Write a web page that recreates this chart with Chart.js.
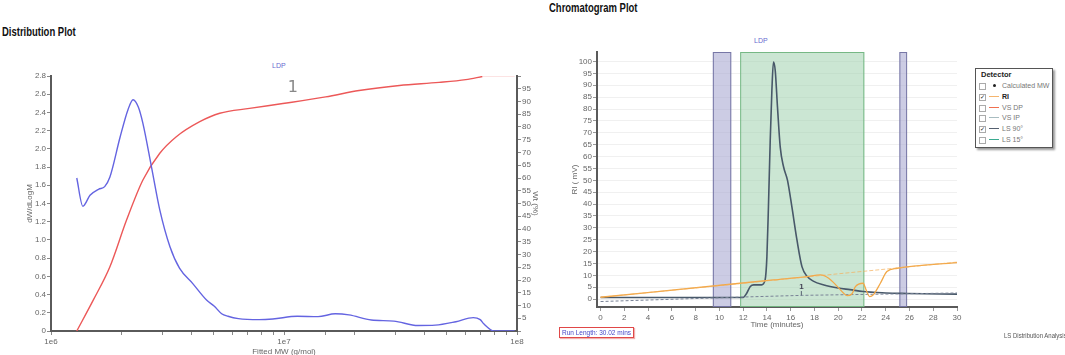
<!DOCTYPE html>
<html>
<head>
<meta charset="utf-8">
<script src="https://cdn.jsdelivr.net/npm/chart.js@4.4.1/dist/chart.umd.min.js"></script>
<style>
  body { margin: 0; background: #fff; width: 1065px; height: 355px; position: relative; overflow: hidden;
         font-family: "Liberation Sans", Arial, sans-serif; }
  .abs { position: absolute; white-space: nowrap; }
  .ptitle { font-weight: bold; font-size: 12px; color: #111; transform: scaleX(0.79); transform-origin: 0 0; }
  .ldp { font-size: 7px; color: #6a6ad0; }
  #distWrap { left: 21px; top: 0; }
  #chromWrap { left: 566px; top: 0; }
  #legend { left: 975px; top: 68px; width: 76px; height: 78px; border: 1px solid #555; box-shadow: 2px 2px 2px #999;
            background: #fff; font-size: 7px; color: #777; }
  #legend .hd { position: absolute; left: 5px; top: 1px; font-weight: bold; color: #222; font-size: 7.5px; }
  #legend .row { position: absolute; left: 2px; height: 10px; width: 72px; }
  #legend .cb { position: absolute; left: 1px; top: 2px; width: 5px; height: 5px; border: 1px solid #aaa; font-size: 6px; line-height: 5px; color: #111; text-align: center; }
  #legend .sym { position: absolute; left: 11px; top: 4px; width: 10px; height: 1px; }
  #legend .lbl { position: absolute; left: 24px; top: 0; line-height: 9px; }
  #runLen { left: 559px; top: 327px; border: 1px solid #e04848; box-shadow: 1px 1px 1px #f0b0b0; font-size: 6.5px; color: #4646c8; padding: 1px 2px; }
  #lsDist { left: 1004px; top: 331px; font-size: 7.5px; color: #555; transform: scaleX(0.8); transform-origin: 0 0; }
</style>
</head>
<body>
<div class="abs ptitle" style="left:2px;top:25px;">Distribution Plot</div>
<div class="abs ptitle" style="left:549px;top:1px;">Chromatogram Plot</div>
<div class="abs ldp" style="left:272px;top:62px;">LDP</div>
<div class="abs ldp" style="left:754px;top:37px;">LDP</div>

<div class="abs" id="distWrap"><canvas id="dist" width="523" height="357"></canvas></div>
<div class="abs" id="chromWrap"><canvas id="chrom" width="399" height="332"></canvas></div>

<div class="abs" id="legend">
  <div class="hd">Detector</div>
  <div class="row" style="top:12px"><div class="cb"></div><div class="sym" style="background:none;"><span style="position:absolute;left:4px;top:-1px;width:3px;height:3px;border-radius:2px;background:#222;"></span></div><div class="lbl">Calculated MW</div></div>
  <div class="row" style="top:23px"><div class="cb">✓</div><div class="sym" style="background:#f5b56e;"></div><div class="lbl" style="font-weight:bold;color:#222;">RI</div></div>
  <div class="row" style="top:34px"><div class="cb"></div><div class="sym" style="background:#f07050;"></div><div class="lbl">VS DP</div></div>
  <div class="row" style="top:44px"><div class="cb"></div><div class="sym" style="background:#a8bcc0;"></div><div class="lbl">VS IP</div></div>
  <div class="row" style="top:55px"><div class="cb">✓</div><div class="sym" style="background:#556070;"></div><div class="lbl">LS 90°</div></div>
  <div class="row" style="top:66px"><div class="cb"></div><div class="sym" style="background:#3aaa90;"></div><div class="lbl">LS 15°</div></div>
</div>

<div class="abs" id="runLen">Run Length: 30.02 mins</div>
<div class="abs" id="lsDist">LS Distribution Analysis</div>

<script>
// ---- Distribution plot data (MW in g/mol) ----
const distMW = [1.29e6, 1.37e6, 1.47e6, 1.60e6, 1.70e6, 1.79e6, 1.98e6, 2.14e6, 2.25e6, 2.37e6, 2.48e6,
  2.70e6, 2.93e6, 3.24e6, 3.56e6, 4.06e6, 4.65e6, 5.01e6, 5.40e6, 5.75e6, 6.37e6, 7.82e6, 8.95e6,
  1.14e7, 1.40e7, 1.66e7, 1.90e7, 2.37e7, 2.96e7, 3.76e7, 4.46e7, 5.47e7, 6.49e7, 6.95e7, 7.20e7, 7.96e7, 9.77e7];
const distDW = [1.68, 1.37, 1.49, 1.556, 1.585, 1.69, 2.13, 2.43, 2.54, 2.46, 2.28,
  1.80, 1.33, 0.925, 0.69, 0.52, 0.34, 0.275, 0.19, 0.162, 0.136, 0.125, 0.132,
  0.162, 0.158, 0.189, 0.177, 0.121, 0.109, 0.06, 0.064, 0.102, 0.147, 0.125, 0.079, 0, 0];
const cumMW = [1.29e6, 1.52e6, 1.79e6, 2.11e6, 2.48e6, 2.93e6, 3.45e6, 4.35e6, 5.30e6, 7.11e6, 9.89e6,
  1.51e7, 2.10e7, 3.13e7, 4.63e7, 6.03e7, 7.10e7];
const cumPct = [0, 12.2, 25.2, 43.5, 59.2, 69.7, 76.2, 82.1, 85.4, 87.3, 89.2, 91.8, 94.3, 96.3, 97.5, 98.6, 99.8];
const cumTailMW = [7.10e7, 9.77e7];
const cumTailPct = [100, 100];
const distPeakMW = 1.09e7, distPeakPct = 95.5, distPeakLabel = '1';

// ---- Chromatogram data (time in minutes, signal in mV) ----
const riTime = [0, 11.75, 14.55, 17.37, 18.5, 19.2, 19.9, 20.46, 20.75, 21.15, 21.45, 22.1, 22.35, 22.65, 22.95, 23.55, 24.1, 24.96, 30];
const riMV   = [0.8, 6.7, 8.1, 9.5, 10.2, 8.8, 5.5, 2.5, 1.5, 2.2, 5.3, 6.7, 3.9, 1.1, 1.8, 6.7, 11.6, 13.0, 15.4];
const riBaseTime = [0, 30];
const riBaseMV = [0.8, 15.6];
const lsTime = [0, 12.0, 12.3, 12.6, 12.9, 13.55, 13.85, 14.0, 14.13, 14.28, 14.42, 14.55, 14.7, 14.89, 15.12, 15.4,
  15.73, 16.1, 16.53, 16.95, 17.4, 17.9, 18.8, 20.0, 21.0, 22.1, 23.0, 24.0, 25.8, 30];
const lsMV = [0.7, 0.7, 2.5, 5.3, 6.0, 6.0, 8.1, 17.9, 38.9, 66.9, 87.9, 99.8, 96.3, 80.9, 64.1, 55.7,
  50.1, 38.9, 24.9, 13.7, 9.5, 7.6, 6.0, 4.7, 4.0, 3.2, 2.9, 2.6, 2.4, 2.1];
const lsBaseTime = [0, 12, 17, 30];
const lsBaseMV = [-1.0, 0.9, 1.6, 2.6];
const bandStart = [9.45, 11.75, 25.15];
const bandEnd = [11.0, 22.2, 25.8];
const bandType = ['exclude', 'peak', 'exclude'];
const chromPeakTime = 16.9, chromPeakBase = 1.6, chromPeakTop = 3.4, chromPeakLabel = '1';

const pts = (xs, ys) => xs.map((x, i) => ({ x: x, y: ys[i] }));

Chart.defaults.font.family = '"Liberation Sans", Arial, sans-serif';
Chart.defaults.font.size = 8;
Chart.defaults.color = '#666';

const axisBorder = { color: '#5a5a5a', width: 2 };
const tickGrid = { display: true, drawOnChartArea: false, tickLength: 4, color: '#888' };

const distLabels = {
  id: 'distLabels',
  afterDatasetsDraw(chart) {
    const { ctx, scales } = chart;
    ctx.save();
    ctx.font = '16px "DejaVu Sans", sans-serif';
    ctx.fillStyle = '#888';
    ctx.textAlign = 'center';
    ctx.textBaseline = 'middle';
    ctx.fillText(distPeakLabel, scales.x.getPixelForValue(distPeakMW), scales.y2.getPixelForValue(distPeakPct));
    ctx.restore();
  }
};

new Chart(document.getElementById('dist').getContext('2d'), {
  type: 'line',
  data: {
    datasets: [
      { data: pts(distMW, distDW), yAxisID: 'y', borderColor: 'rgb(100,100,225)', borderWidth: 1.4,
        pointRadius: 0, cubicInterpolationMode: 'monotone' },
      { data: pts(cumMW, cumPct), yAxisID: 'y2', borderColor: 'rgb(236,88,88)', borderWidth: 1.4,
        pointRadius: 0, cubicInterpolationMode: 'monotone' },
      { data: pts(cumTailMW, cumTailPct), yAxisID: 'y2', borderColor: 'rgba(240,130,130,0.3)', borderWidth: 1.4,
        pointRadius: 0 }
    ]
  },
  options: {
    animation: false, responsive: false,
    layout: { padding: { top: 76, left: 0, right: 0, bottom: 0 } },
    plugins: { legend: { display: false }, tooltip: { enabled: false } },
    scales: {
      x: {
        type: 'logarithmic', min: 1e6, max: 1e8, border: axisBorder, grid: tickGrid,
        ticks: { autoSkip: false, maxRotation: 0, padding: 2,
          callback: v => { const e = Math.log10(v); return Math.abs(e - Math.round(e)) < 1e-9 ? '1e' + Math.round(e) : ''; } },
        title: { display: true, text: 'Fitted MW (g/mol)', padding: { top: 0, bottom: 0 } },
        afterFit: s => { s.height = 26; }
      },
      y: {
        position: 'left', min: 0, max: 2.8, border: axisBorder, grid: tickGrid,
        ticks: { stepSize: 0.2, padding: 1 },
        title: { display: true, text: 'dW/dLogM', padding: { top: 4, bottom: 0 } },
        afterFit: s => { s.width = 30; }
      },
      y2: {
        position: 'right', min: 0, max: 100, border: axisBorder, grid: tickGrid,
        ticks: { stepSize: 5, padding: 1, callback: v => (v === 0 || v === 100) ? '' : v },
        title: { display: true, text: 'Wt (%)', padding: { top: 4, bottom: 0 } },
        afterFit: s => { s.width = 27; }
      }
    }
  },
  plugins: [distLabels]
});

const bandStyle = {
  exclude: { fill: 'rgba(170,170,210,0.6)', stroke: 'rgba(110,110,160,0.9)' },
  peak: { fill: 'rgba(160,210,175,0.55)', stroke: 'rgba(110,180,125,0.9)' }
};

const bands = {
  id: 'bands',
  beforeDatasetsDraw(chart) {
    const { ctx, chartArea, scales: { x } } = chart;
    ctx.save();
    bandStart.forEach((s, i) => {
      const x1 = x.getPixelForValue(s), x2 = x.getPixelForValue(bandEnd[i]);
      const st = bandStyle[bandType[i]];
      ctx.fillStyle = st.fill;
      ctx.fillRect(x1, chartArea.top, x2 - x1, chartArea.bottom - chartArea.top);
      ctx.strokeStyle = st.stroke;
      ctx.lineWidth = 1;
      ctx.strokeRect(x1 + 0.5, chartArea.top + 0.5, x2 - x1 - 1, chartArea.bottom - chartArea.top - 1);
    });
    ctx.restore();
  },
  afterDatasetsDraw(chart) {
    const { ctx, scales: { x, y } } = chart;
    const px = x.getPixelForValue(chromPeakTime);
    ctx.save();
    ctx.strokeStyle = '#556070';
    ctx.lineWidth = 1;
    ctx.beginPath();
    ctx.moveTo(px, y.getPixelForValue(chromPeakBase));
    ctx.lineTo(px, y.getPixelForValue(chromPeakTop));
    ctx.stroke();
    ctx.font = 'bold 8px "Liberation Sans", sans-serif';
    ctx.fillStyle = '#445';
    ctx.textAlign = 'center';
    ctx.textBaseline = 'bottom';
    ctx.fillText(chromPeakLabel, px, y.getPixelForValue(chromPeakTop));
    ctx.restore();
  }
};

new Chart(document.getElementById('chrom').getContext('2d'), {
  type: 'line',
  data: {
    datasets: [
      { data: pts(riBaseTime, riBaseMV), borderColor: 'rgba(245,175,90,0.7)', borderWidth: 1, borderDash: [4, 2], pointRadius: 0 },
      { data: pts(riTime, riMV), borderColor: 'rgb(242,168,72)', borderWidth: 1.3, pointRadius: 0, cubicInterpolationMode: 'monotone' },
      { data: pts(lsBaseTime, lsBaseMV), borderColor: 'rgb(120,130,150)', borderWidth: 1, borderDash: [3, 2], pointRadius: 0 },
      { data: pts(lsTime, lsMV), borderColor: 'rgb(72,88,105)', borderWidth: 1.6, pointRadius: 0, cubicInterpolationMode: 'monotone' }
    ]
  },
  options: {
    animation: false, responsive: false,
    layout: { padding: { top: 52, left: 0, right: 8, bottom: 0 } },
    plugins: { legend: { display: false }, tooltip: { enabled: false } },
    scales: {
      x: {
        type: 'linear', min: -0.3, max: 30, border: axisBorder,
        grid: { display: true, drawOnChartArea: false, tickLength: 4, color: '#999' },
        ticks: { stepSize: 2, includeBounds: false, autoSkip: false, maxRotation: 0, padding: 2 },
        title: { display: true, text: 'Time (minutes)', padding: { top: 0, bottom: 2 } },
        afterFit: s => { s.height = 25; }
      },
      y: {
        min: -3.3, max: 104, border: axisBorder,
        grid: { display: true, color: '#f0f0f0', tickColor: '#999', tickLength: 4 },
        ticks: { stepSize: 5, includeBounds: false, padding: 1 },
        title: { display: true, text: 'RI ( mV)', padding: { top: 4, bottom: 0 } },
        afterFit: s => { s.width = 31; }
      }
    }
  },
  plugins: [bands]
});
</script>
</body>
</html>
